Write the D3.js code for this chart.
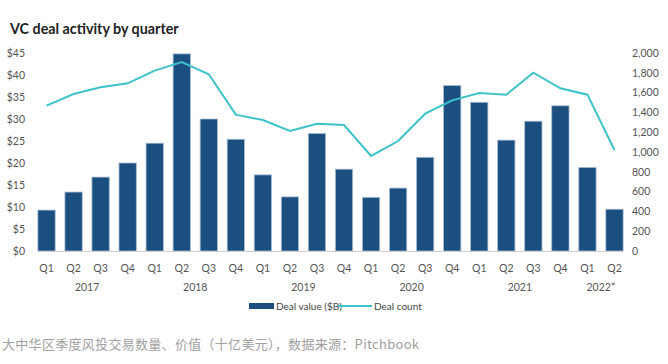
<!DOCTYPE html>
<html>
<head>
<meta charset="utf-8">
<script src="https://cdn.jsdelivr.net/npm/d3@7"></script>
<style>
  html, body { margin: 0; padding: 0; background: #fff; }
  svg { display: block; }
</style>
</head>
<body>
<svg id="chart" width="668" height="364"></svg>
<script>
const quarters = ["Q1","Q2","Q3","Q4","Q1","Q2","Q3","Q4","Q1","Q2","Q3","Q4","Q1","Q2","Q3","Q4","Q1","Q2","Q3","Q4","Q1","Q2"];
const years = ["2017","2018","2019","2020","2021","2022*"];
const yearSpans = [4,4,4,4,4,2];
const dealValue = [9.3,13.4,16.8,20.0,24.5,44.8,30.0,25.4,17.3,12.3,26.7,18.6,12.2,14.3,21.3,37.6,33.8,25.2,29.5,33.0,19.0,9.5];
const dealCount = [1468,1586,1653,1694,1822,1909,1785,1377,1323,1212,1286,1273,960,1111,1387,1522,1596,1579,1801,1643,1579,1020];
const leftTicks = [0,5,10,15,20,25,30,35,40,45];
const rightTicks = [0,200,400,600,800,1000,1200,1400,1600,1800,2000];
const legendLabels = ["Deal value ($B)","Deal count"];
const title = "VC deal activity by quarter";
const caption = "大中华区季度风投交易数量、价值（十亿美元），数据来源：Pitchbook";

const barColor = "#1b4f80", lineColor = "#3ec3ca";
const svg = d3.select("#chart");
const font = "Lato, 'Open Sans', sans-serif";

const x = d3.scaleBand().domain(d3.range(quarters.length)).range([33, 628]).paddingInner(0.36).paddingOuter(0.18);
const yL = d3.scaleLinear().domain([0,45]).range([251,53]);
const yR = d3.scaleLinear().domain([0,2000]).range([251,53]);

svg.append("text").attr("x",10).attr("y",34).attr("font-family",font).attr("font-weight","bold")
  .attr("font-size",14.3).attr("fill","#222").text(title);

// left axis
const gL = svg.append("g").attr("transform","translate(25,0)")
  .call(d3.axisLeft(yL).tickValues(leftTicks).tickSize(0).tickPadding(0).tickFormat(d=>"$"+d));
gL.select(".domain").remove();
gL.selectAll("text").attr("font-family",font).attr("font-size",10.5).attr("fill","#555");

// right axis
const gR = svg.append("g").attr("transform","translate(632,0)")
  .call(d3.axisRight(yR).tickValues(rightTicks).tickSize(0).tickPadding(0).tickFormat(d3.format(",")));
gR.select(".domain").remove();
gR.selectAll("text").attr("font-family",font).attr("font-size",10.5).attr("fill","#555");

// bars
svg.append("g").selectAll("rect").data(dealValue).join("rect")
  .attr("x",(d,i)=>x(i)).attr("width",x.bandwidth())
  .attr("y",d=>yL(d)).attr("height",d=>yL(0)-yL(d))
  .attr("fill",barColor).attr("stroke","#a9bdd2").attr("stroke-width",0.8);

// baseline
svg.append("line").attr("x1",x(0)).attr("x2",x(quarters.length-1)+x.bandwidth())
  .attr("y1",yL(0)+0.5).attr("y2",yL(0)+0.5).attr("stroke","#cfcfcf").attr("stroke-width",1);

// line
const line = d3.line().x((d,i)=>x(i)+x.bandwidth()/2).y(d=>yR(d));
svg.append("path").datum(dealCount).attr("d",line).attr("fill","none")
  .attr("stroke",lineColor).attr("stroke-width",2);

// x axis labels
const gX = svg.append("g").attr("transform","translate(0,251)")
  .call(d3.axisBottom(x).tickSize(0).tickPadding(0).tickFormat(i=>quarters[i]));
gX.select(".domain").remove();
gX.selectAll("text").attr("dy",0).attr("y",21).attr("font-family",font).attr("font-size",10.5).attr("fill","#555");

let idx = 0;
years.forEach((yr,k)=>{
  const a = idx, b = idx + yearSpans[k] - 1;
  const cx = (x(a) + x(b) + x.bandwidth())/2;
  svg.append("text").attr("x",cx).attr("y",291).attr("text-anchor","middle")
    .attr("font-family",font).attr("font-size",10.5).attr("fill","#555").text(yr);
  idx += yearSpans[k];
});

// legend
const lg = svg.append("g");
lg.append("rect").attr("x",249).attr("y",303).attr("width",25).attr("height",6).attr("fill",barColor);
lg.append("text").attr("x",276).attr("y",310).attr("font-family",font).attr("font-size",10).attr("fill","#444").text(legendLabels[0]);
lg.append("line").attr("x1",338).attr("x2",372).attr("y1",306).attr("y2",306).attr("stroke",lineColor).attr("stroke-width",2);
lg.append("text").attr("x",374).attr("y",310).attr("font-family",font).attr("font-size",10).attr("fill","#444").text(legendLabels[1]);

// caption
svg.append("text").attr("x",2).attr("y",349).attr("font-family","'Noto Sans CJK SC', sans-serif")
  .attr("font-size",13).attr("letter-spacing",0.3).attr("fill","#a0a0a0").text(caption);
</script>
</body>
</html>
